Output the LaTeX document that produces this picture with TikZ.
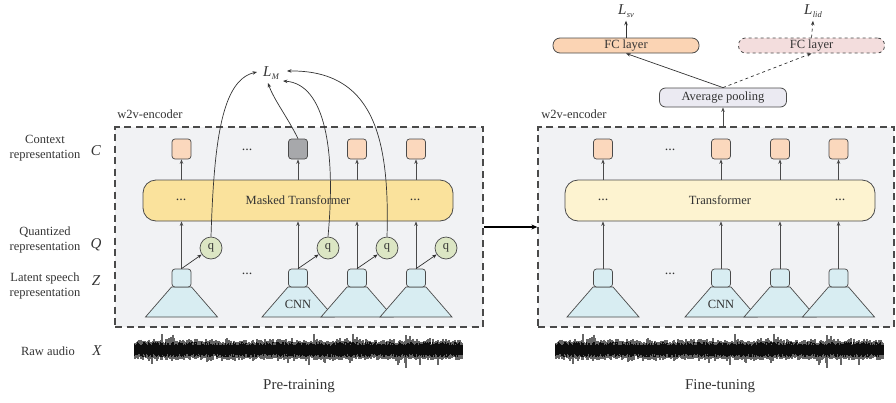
\documentclass[tikz,border=0pt]{standalone}
\usepackage{fontspec}
\setmainfont{Liberation Serif}
\usetikzlibrary{arrows.meta}
\definecolor{encgray}{HTML}{F1F2F4}
\definecolor{ctxorange}{HTML}{FBD8BD}
\definecolor{ctxgray}{HTML}{A7A8AB}
\definecolor{mtyellow}{HTML}{FAE29C}
\definecolor{tyellow}{HTML}{FDF3D0}
\definecolor{qgreen}{HTML}{DCE6C4}
\definecolor{zblue}{HTML}{D8EDF2}
\definecolor{fcorange}{HTML}{FBD4B4}
\definecolor{fcpink}{HTML}{F3DDDD}
\definecolor{poolfill}{HTML}{EBEAF2}
\definecolor{txt}{HTML}{333333}
\definecolor{edge}{HTML}{4A4A4A}
\tikzset{
  every node/.style={text=txt, font=\fontsize{12.5}{15}\selectfont},
  encbox/.style={draw=edge, line width=1.3pt, dash pattern=on 7pt off 4.5pt, fill=encgray, minimum width=#1, minimum height=200pt, inner sep=0pt},
  ctxbox/.style={draw=edge, line width=0.7pt, rounded corners=3pt, fill=ctxorange, minimum width=19pt, minimum height=20pt, inner sep=0pt},
  zbox/.style={draw=edge, line width=0.7pt, rounded corners=3pt, fill=zblue, minimum width=19pt, minimum height=18pt, inner sep=0pt},
  qnode/.style={circle, draw=edge, line width=0.7pt, fill=qgreen, minimum size=22pt, inner sep=0pt},
  trbox/.style={draw=edge, line width=0.8pt, rounded corners=13pt, minimum width=310pt, minimum height=41pt, inner sep=0pt},
  fcbox/.style={draw=edge, line width=0.8pt, rounded corners=7pt, minimum width=146pt, minimum height=15pt, inner sep=0pt},
  cnn/.style={draw=edge, line width=0.7pt, fill=zblue},
  arr/.style={-{Stealth[length=4.5pt,width=3.5pt]}, line width=0.7pt, draw=black!80},
  varr/.style={-{Stealth[length=4.5pt,width=3.5pt]}, line width=1pt, draw=edge},
  mathlbl/.style={font=\fontsize{15}{15}\selectfont\itshape},
  dots/.style={font=\fontsize{14}{14}\selectfont},
  wavefr/.style={line width=1.1pt, draw=black!60},
  wave/.style={line width=1.1pt, draw=black!95}
}
\begin{document}
\begin{tikzpicture}[x=1pt,y=-1pt]
\useasboundingbox (0,0) rectangle (896,402);

% encoder boxes
\node[encbox=368pt] (encL) at (299,227) {};
\node[encbox=356pt] (encR) at (716,227) {};
\node (wL) at (150,114) {w2v-encoder};
\node (wR) at (574,114) {w2v-encoder};

% left labels
\node[align=center] (lc) at (45,148) {Context\\representation};
\node[mathlbl] (lC) at (96,151) {C};
\node[align=center] (lq) at (45,240) {Quantized\\representation};
\node[mathlbl] (lQ) at (96,245) {Q};
\node[align=center] (lz) at (45,286) {Latent speech\\representation};
\node[mathlbl] (lZ) at (96,281) {Z};
\node (lr) at (48,351) {Raw audio};
\node[mathlbl] (lX) at (97,351) {X};

% ---------- left (pre-training) ----------
\node[trbox, fill=mtyellow] (mt) at (298,200.5) {};
\node (mtt) at (298,200.5) {Masked Transformer};
\node[dots] (mtd1) at (181,200) {...};
\node[dots] (mtd2) at (415,200) {...};

\node[ctxbox] (c1) at (181.5,149) {};
\node[ctxbox, fill=ctxgray] (c2) at (298,149) {};
\node[ctxbox] (c3) at (357,149) {};
\node[ctxbox] (c4) at (416,149) {};
\node[dots] (cd) at (247,150) {...};

\foreach \xx/\n in {181.5/1,298/2,357/3,416/4}{
  \draw[cnn] (\xx-36,317) -- (\xx-10,287) -- (\xx+10,287) -- (\xx+36,317) -- cycle;
  \node[zbox] (z\n) at (\xx,278) {};
}
\node (cnnL) at (298,304) {CNN};
\node[dots] (zd) at (247,274) {...};

\node[qnode] (q1) at (211,248) {q};
\node[qnode] (q2) at (328,248) {q};
\node[qnode] (q3) at (387,248) {q};
\node[qnode] (q4) at (446,248) {q};

\foreach \n in {1,2,3,4}{
  \draw[varr] (z\n.north) -- (z\n.north |- mt.south);
  \draw[arr] (z\n.north) -- (q\n);
}
\draw[varr] (c1.south |- mt.north) -- (c1.south);
\draw[varr] (c2.south |- mt.north) -- (c2.south);
\draw[varr] (c3.south |- mt.north) -- (c3.south);
\draw[varr] (c4.south |- mt.north) -- (c4.south);

\node (LM) at (271,73) {\fontsize{15}{15}\selectfont\itshape L\kern0.3pt\raisebox{-2.5pt}{\fontsize{8.5}{9}\selectfont M}};
\coordinate (LMw) at (257,72);
\coordinate (LMb) at (268,83);
\coordinate (LMr1) at (283,81);
\coordinate (LMr2) at (287,71);
\draw[arr] (q1.north) .. controls (214,140) and (222,80) .. (LMw);
\draw[arr] (c2.north) .. controls (288,118) and (274,100) .. (LMb);
\draw[arr] (q2.north) .. controls (336,150) and (325,84) .. (LMr1);
\draw[arr] (q3.north) .. controls (390,135) and (372,70) .. (LMr2);

% ---------- right (fine-tuning) ----------
\node[trbox, fill=tyellow] (tr) at (720,200.5) {};
\node (trt) at (720,200.5) {Transformer};
\node[dots] (trd1) at (603,200) {...};
\node[dots] (trd2) at (840,200) {...};

\node[ctxbox] (r1) at (603,149) {};
\node[ctxbox] (r2) at (721,149) {};
\node[ctxbox] (r3) at (780,149) {};
\node[ctxbox] (r4) at (838.5,149) {};
\node[dots] (rd) at (670,150) {...};

\foreach \xx/\n in {603/1,721/2,780/3,838.5/4}{
  \draw[cnn] (\xx-36,317) -- (\xx-10,287) -- (\xx+10,287) -- (\xx+36,317) -- cycle;
  \node[zbox] (y\n) at (\xx,278) {};
}
\node (cnnR) at (721,304) {CNN};
\node[dots] (yd) at (670,274) {...};

\foreach \n in {1,2,3,4}{
  \draw[varr] (y\n.north) -- (y\n.north |- tr.south);
  \draw[varr] (r\n.south |- tr.north) -- (r\n.south);
}

\node[draw=edge, line width=0.8pt, rounded corners=6pt, fill=poolfill, minimum width=127pt, minimum height=19pt, inner sep=0pt] (pool) at (723,97.5) {Average pooling};
\node[fcbox, fill=fcorange] (fcL) at (626,45.5) {FC layer};
\node[fcbox, fill=fcpink, dashed] (fcR) at (811.5,45.5) {FC layer};
\node (Lsv) at (626,11) {\fontsize{15}{15}\selectfont\itshape L\kern0.3pt\raisebox{-2.5pt}{\fontsize{8.5}{9}\selectfont sv}};
\node (Llid) at (813,11) {\fontsize{15}{15}\selectfont\itshape L\kern0.3pt\raisebox{-2.5pt}{\fontsize{8.5}{9}\selectfont lid}};

\draw[varr] (pool.south |- encR.north) -- (pool.south);
\draw[arr] (pool.north) -- (fcL.south);
\draw[arr, dashed] (pool.north) -- (fcR.south);
\draw[arr] (fcL.north) -- (Lsv.south);
\draw[arr, dashed] (fcR.north) -- (Llid.south);

% arrow between encoders
\draw[-{Stealth[length=6pt,width=5pt]}, line width=1.3pt, draw=black] (encL.east) -- (encR.west);

% waveforms
\foreach \xs in {135,556}{
  \pgfmathsetseed{4242}
  \foreach \i in {0,1,...,327}{
    \pgfmathsetmacro{\cu}{4.5+3.5*rnd}
    \pgfmathsetmacro{\cd}{4+3.5*rnd}
    \pgfmathsetmacro{\up}{\cu+1+3*rnd+8*(rnd>0.93)*rnd}
    \pgfmathsetmacro{\dn}{\cd+1+3*rnd+8*(rnd>0.94)*rnd}
    \draw[wavefr] (\xs+\i,350-\up) -- (\xs+\i,350+\dn);
    \draw[wave] (\xs+\i,350-\cu) -- (\xs+\i,350+\cd);
  }
}

\node[font=\fontsize{15}{18}\selectfont] (pt) at (299,386) {Pre-training};
\node[font=\fontsize{15}{18}\selectfont] (ft) at (720,386) {Fine-tuning};
\end{tikzpicture}
\end{document}
